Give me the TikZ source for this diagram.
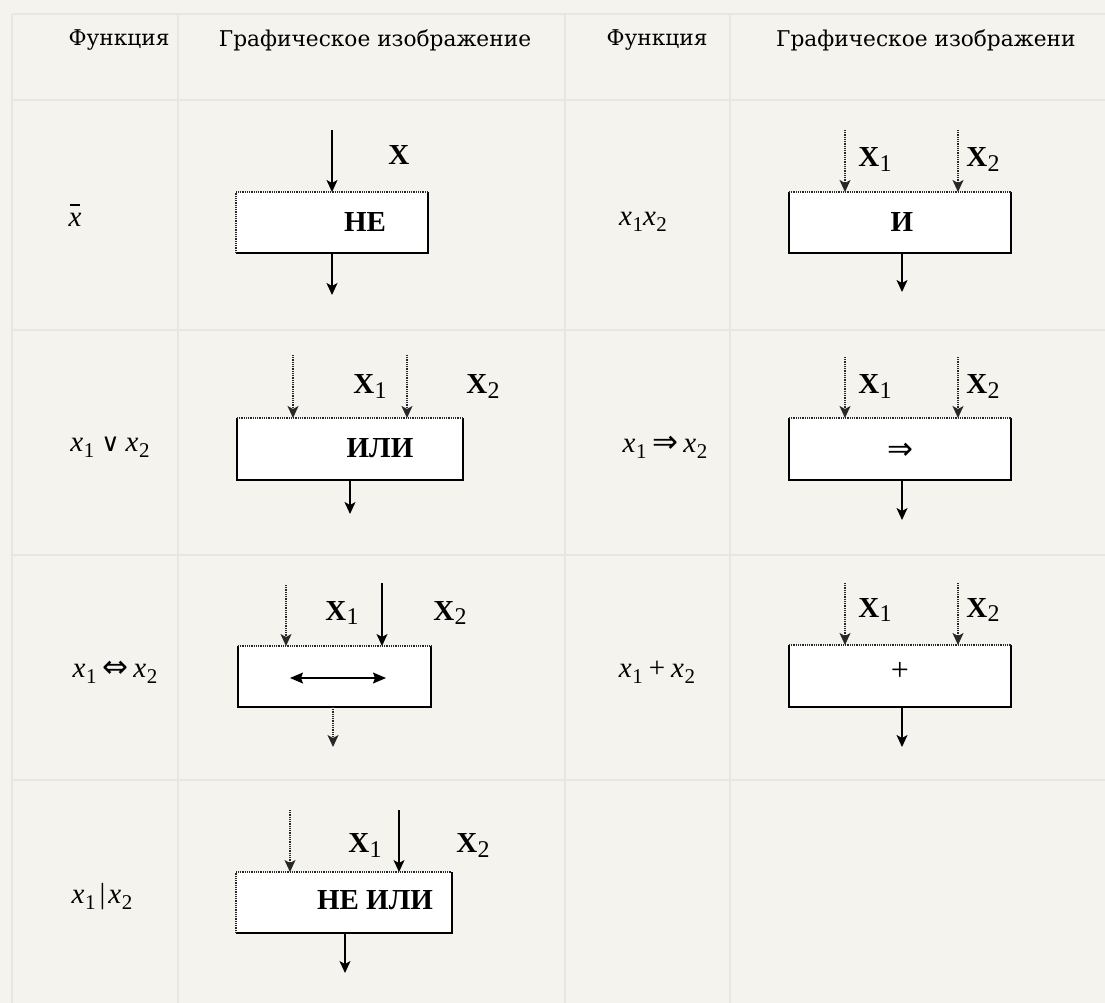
\documentclass[tikz,border=0pt]{standalone}
\usepackage{fontspec}
\setmainfont{DejaVu Serif}
\newfontfamily\tms{Liberation Serif}
\newfontfamily\dsans{DejaVu Sans}
\usetikzlibrary{arrows.meta}
\definecolor{paper}{RGB}{244,243,237}
\definecolor{gridc}{RGB}{231,231,225}
\definecolor{dotc}{RGB}{40,40,40}
\newcommand{\Xl}[1]{{\tms\fontsize{29}{29}\selectfont\bfseries X\kern0.5pt\raisebox{-5pt}{\fontsize{24}{24}\selectfont\mdseries #1}}}
\newcommand{\vx}[1]{{\tms\itshape x}\kern0.5pt\raisebox{-6pt}{\tms\fontsize{21}{21}\selectfont #1}}
\newcommand{\sy}[2][25]{{\dsans\fontsize{#1}{#1}\selectfont #2}}
\tikzset{
  gbox/.style={fill=white, inner sep=0pt, outer sep=0pt},
  solidedge/.style={draw=black, line width=1.3pt},
  dotedge/.style={draw=dotc, line width=1.4pt, dash pattern=on 1pt off 0.8pt},
  arr/.style={line width=1.4pt, -{Stealth[length=12pt,width=11pt,inset=3pt]}},
  darr/.style={arr, draw=dotc, dash pattern=on 1pt off 0.8pt},
  head/.style={font=\fontsize{21.7}{23}\selectfont, inner sep=0pt},
  gtext/.style={font=\tms\fontsize{29}{29}\selectfont\bfseries, inner sep=0pt},
  xlab/.style={inner sep=0pt},
  func/.style={font=\tms\fontsize{29}{29}\selectfont, inner sep=0pt},
  gridline/.style={draw=gridc, line width=1.2pt}
}
\begin{document}
\begin{tikzpicture}[x=1pt,y=-1pt]
\fill[paper] (0,0) rectangle (1105,1003);
\useasboundingbox (0,0) rectangle (1105,1003);
% grid
\foreach \gx in {12,178,565,730} \draw[gridline] (\gx,14) -- (\gx,1003);
\foreach \gy in {14,100,330,555,780} \draw[gridline] (12,\gy) -- (1105,\gy);

% headers
\node[head] (h1) at (119,40) {Функция};
\node[head] (h2) at (375,40) {Графическое изображение};
\node[head] (h3) at (657,40) {Функция};
\node[head, anchor=west] (h4) at (776,40) {Графическое изображени};

% functions
\node[func] (f1) at (75,220) {\itshape\ooalign{x\cr\hidewidth\raisebox{0.72em}{\rule{0.36em}{0.07em}}\hidewidth\cr}};
\node[func] (f2) at (110,447) {\vx{1}\hspace{7pt}\sy{∨}\hspace{6pt}\vx{2}};
\node[func] (f3) at (115,672) {\vx{1}\hspace{6pt}\sy[31]{⇔}\hspace{5pt}\vx{2}};
\node[func] (f4) at (102,897) {\vx{1}\hspace{4pt}|\hspace{3pt}\vx{2}};
\node[func] (f5) at (643,222) {\vx{1}\vx{2}};
\node[func] (f6) at (665,447) {\vx{1}\hspace{6pt}\sy[31]{⇒}\hspace{5pt}\vx{2}};
\node[func] (f7) at (657,672) {\vx{1}\hspace{6pt}+\hspace{6pt}\vx{2}};

% ---------- NE ----------
\node[gbox, minimum width=192pt, minimum height=61pt] (ne) at (332,222.5) {};
\draw[solidedge] (ne.north east) -- (ne.south east) -- (ne.south west);
\draw[dotedge] (ne.south west) -- (ne.north west) -- (ne.north east);
\node[gtext] (ne-t) at (365,222) {НЕ};
\coordinate (ne-in) at (332,130);
\coordinate (ne-out) at (332,295);
\draw[arr] (ne-in) -- (ne-in |- ne.north);
\draw[arr] (ne-out |- ne.south) -- (ne-out);
\node[xlab] (ne-x) at (399,158) {\Xl{}};

% ---------- I ----------
\node[gbox, minimum width=222pt, minimum height=61pt] (and) at (900,222.5) {};
\draw[solidedge] (and.north east) -- (and.south east) -- (and.south west) -- (and.north west);
\draw[dotedge] (and.north west) -- (and.north east);
\node[gtext] (and-t) at (902,222) {И};
\coordinate (and-in1) at (845,130);
\coordinate (and-in2) at (958,130);
\coordinate (and-out) at (902,292);
\draw[darr] (and-in1) -- (and-in1 |- and.north);
\draw[darr] (and-in2) -- (and-in2 |- and.north);
\draw[arr] (and-out |- and.south) -- (and-out);
\node[xlab] (and-x1) at (875,160) {\Xl{1}};
\node[xlab] (and-x2) at (983,160) {\Xl{2}};

% ---------- ILI ----------
\node[gbox, minimum width=226pt, minimum height=62pt] (or) at (350,449) {};
\draw[solidedge] (or.north east) -- (or.south east) -- (or.south west) -- (or.north west);
\draw[dotedge] (or.north west) -- (or.north east);
\node[gtext] (or-t) at (380,448) {ИЛИ};
\coordinate (or-in1) at (293,355);
\coordinate (or-in2) at (407,355);
\coordinate (or-out) at (350,514);
\draw[darr] (or-in1) -- (or-in1 |- or.north);
\draw[darr] (or-in2) -- (or-in2 |- or.north);
\draw[arr] (or-out |- or.south) -- (or-out);
\node[xlab] (or-x1) at (370,387) {\Xl{1}};
\node[xlab] (or-x2) at (483,387) {\Xl{2}};

% ---------- IMP ----------
\node[gbox, minimum width=222pt, minimum height=62pt] (imp) at (900,449) {};
\draw[solidedge] (imp.north east) -- (imp.south east) -- (imp.south west) -- (imp.north west);
\draw[dotedge] (imp.north west) -- (imp.north east);
\node[inner sep=0pt, font=\dsans\fontsize{31}{31}\selectfont] (imp-t) at (900,451) {⇒};
\coordinate (imp-in1) at (845,357);
\coordinate (imp-in2) at (958,357);
\coordinate (imp-out) at (902,520);
\draw[darr] (imp-in1) -- (imp-in1 |- imp.north);
\draw[darr] (imp-in2) -- (imp-in2 |- imp.north);
\draw[arr] (imp-out |- imp.south) -- (imp-out);
\node[xlab] (imp-x1) at (875,387) {\Xl{1}};
\node[xlab] (imp-x2) at (983,387) {\Xl{2}};

% ---------- EQV ----------
\node[gbox, minimum width=193pt, minimum height=61pt] (eqv) at (334.5,676.5) {};
\draw[solidedge] (eqv.north east) -- (eqv.south east) -- (eqv.south west) -- (eqv.north west);
\draw[dotedge] (eqv.north west) -- (eqv.north east);
\coordinate (eqv-a) at (290,678);
\coordinate (eqv-b) at (386,678);
\draw[line width=1.4pt, {Stealth[length=13pt,width=11pt,inset=2pt]}-{Stealth[length=13pt,width=11pt,inset=2pt]}] (eqv-a) -- (eqv-b);
\coordinate (eqv-in1) at (286,585);
\coordinate (eqv-in2) at (382,583);
\coordinate (eqv-out) at (333,747);
\draw[darr] (eqv-in1) -- (eqv-in1 |- eqv.north);
\draw[arr] (eqv-in2) -- (eqv-in2 |- eqv.north);
\draw[darr] (eqv-out |- eqv.south) -- (eqv-out);
\node[xlab] (eqv-x1) at (342,613) {\Xl{1}};
\node[xlab] (eqv-x2) at (450,613) {\Xl{2}};

% ---------- XOR ----------
\node[gbox, minimum width=222pt, minimum height=62pt] (xor) at (900,676) {};
\draw[solidedge] (xor.north east) -- (xor.south east) -- (xor.south west) -- (xor.north west);
\draw[dotedge] (xor.north west) -- (xor.north east);
\node[inner sep=0pt, font=\tms\fontsize{32}{32}\selectfont] (xor-t) at (900,671) {+};
\coordinate (xor-in1) at (845,583);
\coordinate (xor-in2) at (958,583);
\coordinate (xor-out) at (902,747);
\draw[darr] (xor-in1) -- (xor-in1 |- xor.north);
\draw[darr] (xor-in2) -- (xor-in2 |- xor.north);
\draw[arr] (xor-out |- xor.south) -- (xor-out);
\node[xlab] (xor-x1) at (875,610) {\Xl{1}};
\node[xlab] (xor-x2) at (983,610) {\Xl{2}};

% ---------- NOR ----------
\node[gbox, minimum width=216pt, minimum height=61pt] (nor) at (344,902.5) {};
\draw[solidedge] (nor.north east) -- (nor.south east) -- (nor.south west);
\draw[dotedge] (nor.south west) -- (nor.north west) -- (nor.north east);
\node[gtext] (nor-t) at (375,900) {НЕ ИЛИ};
\coordinate (nor-in1) at (290,810);
\coordinate (nor-in2) at (399,810);
\coordinate (nor-out) at (345,973);
\draw[darr] (nor-in1) -- (nor-in1 |- nor.north);
\draw[arr] (nor-in2) -- (nor-in2 |- nor.north);
\draw[arr] (nor-out |- nor.south) -- (nor-out);
\node[xlab] (nor-x1) at (365,845) {\Xl{1}};
\node[xlab] (nor-x2) at (473,845) {\Xl{2}};
\end{tikzpicture}
\end{document}
